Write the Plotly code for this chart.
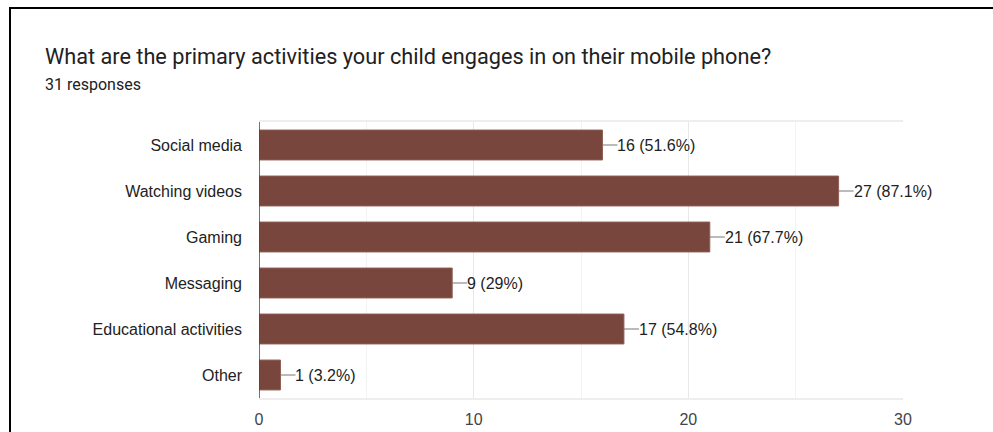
import plotly.graph_objects as go

# Survey results
categories = ["Social media", "Watching videos", "Gaming", "Messaging",
              "Educational activities", "Other"]
counts = [16, 27, 21, 9, 17, 1]
total_responses = 31
x_ticks = [0, 10, 20, 30]

title_text = "What are the primary activities your child engages in on their mobile phone?"
subtitle_text = f"{total_responses} responses"

BAR_COLOR = "#79463d"
LABEL_FONT = "Liberation Sans, Arial, sans-serif"
W, H = 993, 432
L, R, T, B = 259, 90, 122, 34
plot_w = W - L - R
plot_h = H - T - B


def px_to_paper_x(px):
    return (px - L) / plot_w


def px_to_paper_y(py):
    return (H - B - py) / plot_h


def value_label(n):
    pct = round(n / total_responses * 100, 1)
    return f"{n} ({pct:g}%)"


fig = go.Figure(
    go.Bar(
        x=counts,
        y=categories,
        orientation="h",
        marker=dict(color=BAR_COLOR, line=dict(color="#8e5e55", width=1)),
        hoverinfo="skip",
    )
)

# Value labels with short leader lines
for cat, n in zip(categories, counts):
    fig.add_annotation(
        x=n, y=cat, xref="x", yref="y",
        text=value_label(n),
        showarrow=True, arrowhead=0, arrowwidth=1, arrowcolor="#777777",
        ax=15, ay=0, xanchor="left", yanchor="middle",
        standoff=0, borderpad=0, borderwidth=0,
        font=dict(family=LABEL_FONT, size=16, color="#222222"),
    )

# Title and subtitle
fig.add_annotation(
    x=px_to_paper_x(43), y=px_to_paper_y(56), xref="paper", yref="paper",
    text=title_text, showarrow=False, xanchor="left", yanchor="middle",
    font=dict(family="Roboto, sans-serif", size=21.7, color="#212121"),
)
fig.add_annotation(
    x=px_to_paper_x(43), y=px_to_paper_y(84), xref="paper", yref="paper",
    text=subtitle_text, showarrow=False, xanchor="left", yanchor="middle",
    font=dict(family="Roboto, sans-serif", size=16, color="#212121"),
)

# Outer frame
fig.add_shape(
    type="rect", xref="paper", yref="paper",
    x0=px_to_paper_x(10), x1=px_to_paper_x(W + 20),
    y0=px_to_paper_y(H + 20), y1=px_to_paper_y(8),
    line=dict(color="#000000", width=2), fillcolor="rgba(0,0,0,0)", layer="above",
)

fig.update_layout(
    width=W, height=H,
    margin=dict(l=L, r=R, t=T, b=B, pad=0, autoexpand=False),
    paper_bgcolor="white", plot_bgcolor="white",
    bargap=0.35,
    showlegend=False,
    xaxis=dict(
        automargin=False,
        range=[0, 30], tickvals=x_ticks, ticks="", showline=True, mirror=True,
        linecolor="#eeeeee", linewidth=2,
        showgrid=True, gridcolor="#e8e8e8", gridwidth=1,
        minor=dict(dtick=5, showgrid=True, gridcolor="#f3f3f3", gridwidth=1),
        zeroline=False,
        tickfont=dict(family=LABEL_FONT, size=16, color="#444444"),
        ticklabelstandoff=6,
        fixedrange=True,
    ),
    yaxis=dict(
        automargin=False,
        autorange="reversed", showgrid=False, zeroline=False, ticks="",
        showline=False,
        tickfont=dict(family=LABEL_FONT, size=16, color="#222222"),
        ticklabelstandoff=16,
        fixedrange=True,
    ),
)

# Left axis line at zero
fig.add_shape(
    type="line", xref="x", yref="paper", x0=0, x1=0, y0=0, y1=1,
    line=dict(color="#444444", width=1.5), layer="above",
)

fig.write_html("out.html")
